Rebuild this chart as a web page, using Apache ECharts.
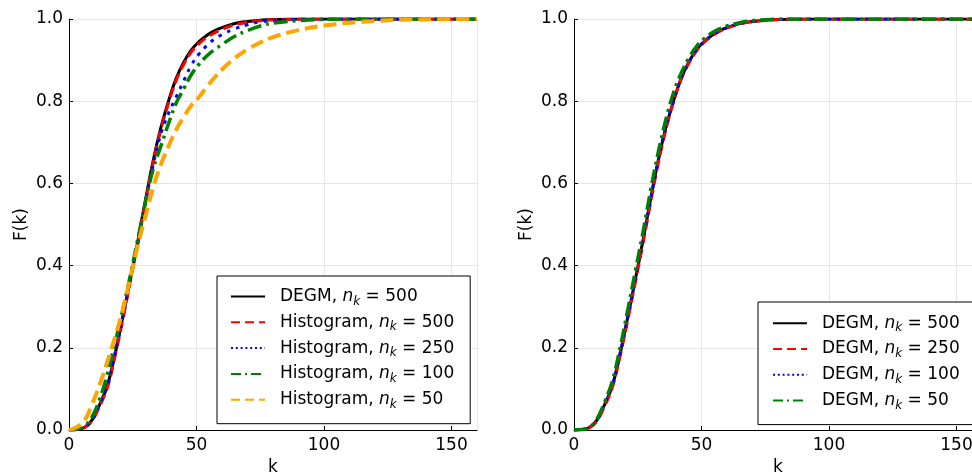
<!DOCTYPE html>
<html><head><meta charset="utf-8">
<script src="https://cdn.jsdelivr.net/npm/echarts@6/dist/echarts.min.js"></script>
<style>html,body{margin:0;padding:0;background:#fff}#c{width:972px;height:474px}</style>
</head><body><div id="c"></div>
<script>
// ---- data ----
const kValues = [0,3,6,9,12,15,18,21,24,27,30,33,36,39,42,45,48,51,54,57,60,65,70,75,80,90,100,110,120,130,140,150,160];

// left panel
const leftDegm500 = [0,0.001,0.006,0.024,0.062,0.107,0.183,0.272,0.365,0.46,0.56,0.655,0.735,0.80,0.855,0.895,0.925,0.945,0.96,0.971,0.979,0.989,0.994,0.997,0.999,1,1,1,1,1,1,1,1];
const leftHist500 = [0,0.001,0.005,0.022,0.058,0.102,0.178,0.265,0.36,0.455,0.555,0.65,0.73,0.795,0.85,0.89,0.92,0.94,0.955,0.966,0.975,0.986,0.992,0.996,0.998,1,1,1,1,1,1,1,1];
const leftHist250 = [0,0.001,0.006,0.024,0.062,0.108,0.185,0.272,0.365,0.455,0.555,0.645,0.72,0.77,0.81,0.85,0.888,0.915,0.935,0.951,0.962,0.976,0.986,0.993,0.996,0.999,1,1,1,1,1,1,1];
const leftHist100 = [0,0.002,0.009,0.032,0.075,0.135,0.21,0.29,0.375,0.465,0.555,0.635,0.69,0.745,0.795,0.83,0.865,0.89,0.91,0.925,0.938,0.958,0.972,0.983,0.99,0.996,0.999,1,1,1,1,1,1];
const leftHist50  = [0,0.007,0.022,0.062,0.11,0.165,0.225,0.29,0.37,0.45,0.52,0.59,0.645,0.69,0.73,0.762,0.79,0.81,0.835,0.857,0.877,0.905,0.926,0.943,0.956,0.973,0.984,0.991,0.995,0.998,0.999,1,1];

// right panel
const rightDegm500 = [0,0.001,0.006,0.024,0.062,0.107,0.183,0.272,0.365,0.46,0.56,0.655,0.735,0.80,0.855,0.895,0.925,0.945,0.96,0.971,0.979,0.989,0.994,0.997,0.999,1,1,1,1,1,1,1,1];
const rightDegm250 = [0,0.001,0.005,0.022,0.058,0.103,0.178,0.265,0.358,0.452,0.552,0.648,0.73,0.798,0.853,0.892,0.922,0.943,0.958,0.97,0.978,0.988,0.994,0.997,0.999,1,1,1,1,1,1,1,1];
const rightDegm100 = [0,0.001,0.006,0.024,0.063,0.108,0.184,0.273,0.366,0.46,0.56,0.655,0.737,0.802,0.855,0.895,0.925,0.945,0.96,0.971,0.979,0.989,0.994,0.997,0.999,1,1,1,1,1,1,1,1];
const rightDegm50  = [0,0.001,0.006,0.027,0.068,0.118,0.198,0.29,0.385,0.48,0.582,0.675,0.755,0.82,0.868,0.905,0.933,0.952,0.966,0.976,0.983,0.991,0.996,0.998,1,1,1,1,1,1,1,1,1];

const leftMethods = ['DEGM','Histogram','Histogram','Histogram','Histogram'];
const leftNk = [500,500,250,100,50];
const rightMethods = ['DEGM','DEGM','DEGM','DEGM'];
const rightNk = [500,250,100,50];

const xTickValues = [0,50,100,150];
const yTickValues = [0,0.2,0.4,0.6,0.8,1.0];

// ---- styles ----
const FONT = 'DejaVu Sans';
const leftSeriesData = [leftDegm500,leftHist500,leftHist250,leftHist100,leftHist50];
const rightSeriesData = [rightDegm500,rightDegm250,rightDegm100,rightDegm50];
const leftStyles = [
  {color:'#000000', width:3, type:'solid', legendType:'solid'},
  {color:'#ff0000', width:3, type:[10,5], legendType:[9,5]},
  {color:'#0000ff', width:3, type:[3.5,6], legendType:[2,2.8]},
  {color:'#008000', width:3.5, type:[14,5,3,5], legendType:[10,4,2,4]},
  {color:'#ffa500', width:4, type:[13,6], legendType:[9,5]}
];
const rightStyles = [
  {color:'#000000', width:3, type:'solid', legendType:'solid'},
  {color:'#ff0000', width:3, type:[10,5], legendType:[9,5]},
  {color:'#0000ff', width:3, type:[3.5,6], legendType:[2,2.8]},
  {color:'#008000', width:3.5, type:[14,5,3,5], legendType:[10,4,2,4]}
];

const labelMap = {};
leftMethods.forEach((m,i)=>{ labelMap['L'+i] = {m:m, n:leftNk[i]}; });
rightMethods.forEach((m,i)=>{ labelMap['R'+i] = {m:m, n:rightNk[i]}; });

function pairs(arr){ return kValues.map((k,i)=>[k, arr[i]]); }

const series = [];
leftSeriesData.forEach((arr,i)=>{
  const s = leftStyles[i];
  series.push({name:'L'+i, type:'line', xAxisIndex:0, yAxisIndex:0, data:pairs(arr),
    smooth:0.4, symbol:'none', showSymbol:false,
    lineStyle:{color:s.color, width:s.width, type:s.type, cap:'butt'}, itemStyle:{color:s.color}});
});
rightSeriesData.forEach((arr,i)=>{
  const s = rightStyles[i];
  series.push({name:'R'+i, type:'line', xAxisIndex:1, yAxisIndex:1, data:pairs(arr),
    smooth:0.4, symbol:'none', showSymbol:false,
    lineStyle:{color:s.color, width:s.width, type:s.type, cap:'butt'}, itemStyle:{color:s.color}});
});

const rich = {
  sp:{width:10},
  t:{fontSize:17, fontFamily:FONT, color:'#000', lineHeight:22},
  n:{fontSize:17, fontFamily:FONT, color:'#000', fontStyle:'italic', lineHeight:22},
  s:{fontSize:12, fontFamily:FONT, color:'#000', fontStyle:'italic', lineHeight:13, verticalAlign:'bottom'}
};
function fmt(name){ const o = labelMap[name]; return '{sp| }{t|'+o.m+', }{n|n}{s|k}{t| = '+o.n+'}'; }

function legend(prefix, styles, left, top, padding){
  return {
    orient:'vertical', left:left, top:top, padding:padding,
    itemWidth:34, itemHeight:14, itemGap:6.3,
    backgroundColor:'#ffffff', borderColor:'#000000', borderWidth:1, borderRadius:0,
    selectedMode:false,
    data: styles.map((s,i)=>({name:prefix+i,
      itemStyle:{color:'rgba(0,0,0,0)', opacity:0, borderWidth:0},
      lineStyle:{width:2, type:s.legendType, color:s.color, cap:'butt', opacity:1}})),
    formatter: fmt,
    textStyle:{rich:rich, fontFamily:FONT, fontSize:17, color:'#000'}
  };
}

function xAxis(idx){
  return {gridIndex:idx, type:'value', min:0, max:160, interval:50,
    axisLine:{show:true, onZero:false, lineStyle:{color:'#000', width:1}},
    axisTick:{show:true, inside:true, length:4, lineStyle:{color:'#000'}},
    axisLabel:{color:'#000', fontSize:17, fontFamily:FONT, margin:7, showMaxLabel:false,
      formatter:v=> xTickValues.includes(v) ? String(v) : ''},
    splitLine:{show:true, lineStyle:{color:'#e6e6e6', width:1}},
    name:'k', nameLocation:'middle', nameGap:28,
    nameTextStyle:{color:'#000', fontSize:17, fontFamily:FONT}};
}
function yAxis(idx){
  return {gridIndex:idx, type:'value', min:0, max:1, interval:0.2,
    axisLine:{show:true, onZero:false, lineStyle:{color:'#000', width:1}},
    axisTick:{show:true, inside:true, length:4, lineStyle:{color:'#000'}},
    axisLabel:{color:'#000', fontSize:17, fontFamily:FONT, margin:6,
      formatter:v=>{ const t = yTickValues.find(u=>Math.abs(u-v)<1e-9); return t===undefined?'':t.toFixed(1);} },
    splitLine:{show:true, lineStyle:{color:'#e6e6e6', width:1}},
    name:'F(k)', nameLocation:'middle', nameGap:39, nameRotate:90,
    nameTextStyle:{color:'#000', fontSize:17, fontFamily:FONT}};
}

const chart = echarts.init(document.getElementById('c'), null, {renderer:'canvas'});
chart.setOption({
  animation:false,
  backgroundColor:'#ffffff',
  grid:[
    {left:69, top:19, width:408, height:411, containLabel:false, outerBoundsMode:'none'},
    {left:574, top:19, width:408, height:411, containLabel:false, outerBoundsMode:'none'}
  ],
  xAxis:[xAxis(0), xAxis(1)],
  yAxis:[yAxis(0), yAxis(1)],
  legend:[
    legend('L', leftStyles, 217, 276, [12,16,13,13]),
    legend('R', rightStyles, 758, 302, [12.7,16,13,14])
  ],
  series: series
});
</script>
</body></html>
